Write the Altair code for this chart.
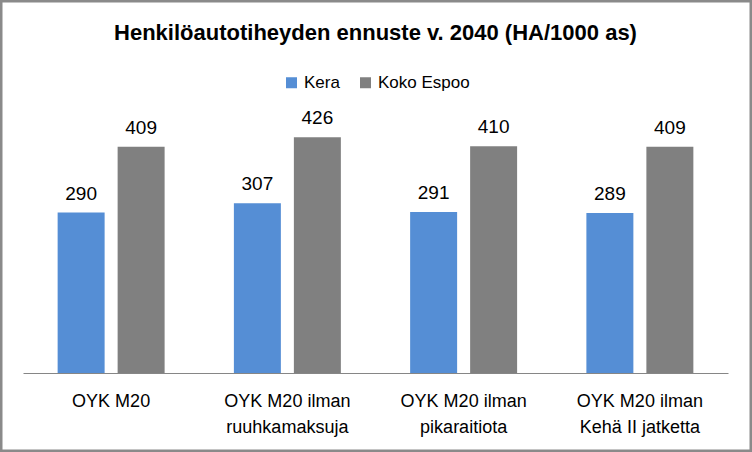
import altair as alt
import pandas as pd

categories = [
    "OYK M20",
    "OYK M20 ilman|ruuhkamaksuja",
    "OYK M20 ilman|pikaraitiota",
    "OYK M20 ilman|Kehä II jatketta",
]
series = ["Kera", "Koko Espoo"]
kera = [290, 307, 291, 289]
koko_espoo = [409, 426, 410, 409]
colors = ["#558ED5", "#808080"]

rows = []
for c, a, b in zip(categories, kera, koko_espoo):
    rows.append({"cat": c, "series": series[0], "value": a})
    rows.append({"cat": c, "series": series[1], "value": b})
df = pd.DataFrame(rows)

FONT = "Liberation Sans"

x_enc = alt.X(
    "cat:N",
    sort=categories,
    scale=alt.Scale(paddingInner=0.393, paddingOuter=0.1965),
    axis=alt.Axis(
        title=None,
        labelExpr="split(datum.label, '|')",
        ticks=False,
        labelAngle=0,
        domainColor="#868686",
        domainWidth=1,
        labelFont=FONT,
        labelFontSize=18,
        labelLineHeight=26,
        labelPadding=19,
        labelColor="#000000",
        labelBaseline="top",
    ),
)
xo_enc = alt.XOffset(
    "series:N", sort=series, scale=alt.Scale(paddingInner=0.2167, paddingOuter=0)
)
y_enc = alt.Y("value:Q", scale=alt.Scale(domain=[0, 450]), axis=None)

base = alt.Chart(df)

bars = base.mark_bar().encode(
    x=x_enc,
    xOffset=xo_enc,
    y=y_enc,
    color=alt.Color(
        "series:N",
        sort=series,
        scale=alt.Scale(domain=series, range=colors),
        legend=alt.Legend(
            title=None,
            orient="none",
            legendX=260,
            legendY=-50,
            direction="horizontal",
            symbolType="square",
            symbolSize=121,
            symbolStrokeWidth=0,
            labelFont=FONT,
            labelFontSize=17,
            labelColor="#000000",
            columnPadding=17,
            labelOffset=4,
        ),
    ),
)

labels = base.mark_text(
    font=FONT, fontSize=19, baseline="alphabetic", dy=-13, color="#000000"
).encode(
    x=x_enc,
    xOffset=xo_enc,
    y=y_enc,
    text=alt.Text("value:Q"),
)

frame = alt.Chart(alt.Data(values=[{}])).mark_rect(
    fillOpacity=0, stroke="#8a8a8a", strokeWidth=2.5, clip=False
).encode(
    x=alt.value(-21.75),
    x2=alt.value(727.75),
    y=alt.value(-122.75),
    y2=alt.value(326.75),
)

chart = (
    alt.layer(bars, labels, frame)
    .properties(
        width=705,
        height=249,
        title=alt.TitleParams(
            "Henkilöautotiheyden ennuste v. 2040 (HA/1000 as)",
            font=FONT,
            fontSize=22,
            fontWeight="bold",
            color="#000000",
            anchor="middle",
            baseline="alphabetic",
            offset=0,
            dy=62,
        ),
        autosize=alt.AutoSizeParams(type="none"),
        padding={"left": 23, "top": 124, "right": 24, "bottom": 79},
        background="#ffffff",
    )
    .configure_view(stroke=None)
)

chart.save("out.html", embed_options={"renderer": "svg", "actions": False})
